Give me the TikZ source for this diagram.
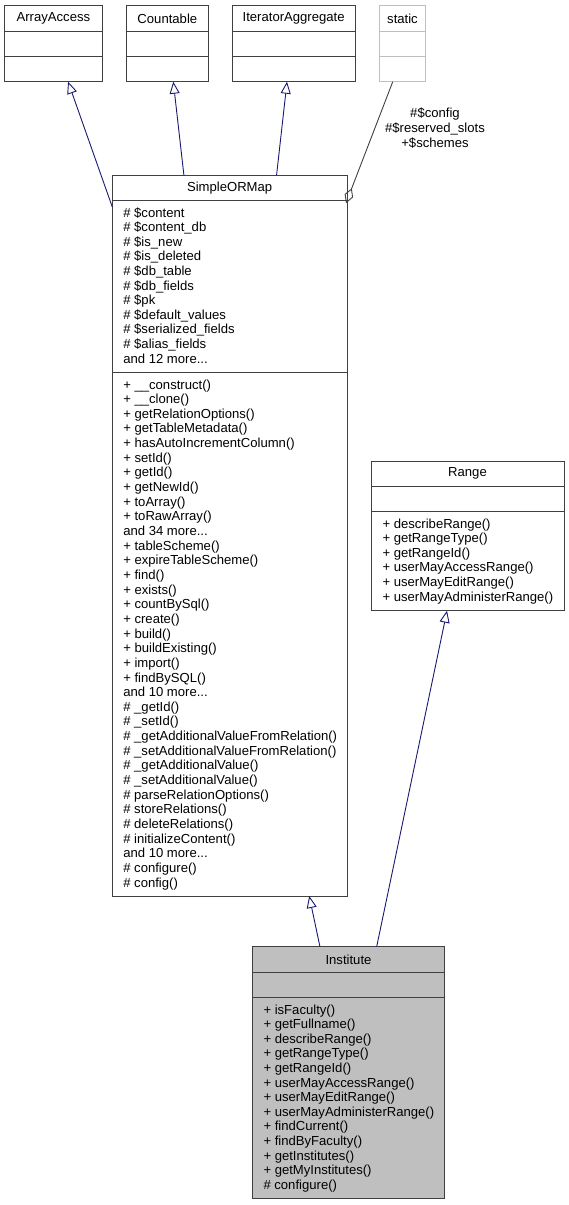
\documentclass[tikz,border=0pt]{standalone}
\usepackage{fontspec}
\setmainfont{Liberation Sans}
\usetikzlibrary{arrows.meta,calc}
\definecolor{edgeblue}{HTML}{191970}
\definecolor{bordergray}{HTML}{404040}
\definecolor{lightborder}{HTML}{BFBFBF}
\definecolor{instfill}{HTML}{BFBFBF}
\newcommand\mydots{...}
\tikzset{
  comp/.style={draw=bordergray, line width=1pt, inner sep=0pt, outer sep=0pt, anchor=north west,
    font=\fontsize{13.1}{14.6}\selectfont, text=black},
  faint/.style={comp, draw=lightborder},
  filled/.style={comp, fill=instfill},
  txt/.style={anchor=base west, inner sep=0pt, outer sep=0pt, font=\fontsize{13.1}{14.6}\selectfont, text=black},
  inh/.style={draw=edgeblue, line width=0.9pt, -{Triangle[open, length=12pt, width=10pt]}},
  agg/.style={draw=bordergray, line width=0.9pt, -{Diamond[open, length=16pt, width=9pt]}},
  lbl/.style={align=center, inner sep=0pt, font=\fontsize{13.1}{15}\selectfont, text=black}
}
\begin{document}
\begin{tikzpicture}[x=1pt, y=-1pt]
\useasboundingbox (0,0) rectangle (569,1205);

% ArrayAccess
\node[comp, minimum width=97.8pt, minimum height=25.8pt] (aa) at (4.5,5.5) {ArrayAccess};
\node[comp, minimum width=97.8pt, minimum height=25.4pt] (aa-a) at (4.5,31.3) {};
\node[comp, minimum width=97.8pt, minimum height=25pt] (aa-m) at (4.5,56.7) {};
% Countable
\node[comp, minimum width=81.3pt, minimum height=25.8pt] (cnt) at (126.7,5.5) {Countable};
\node[comp, minimum width=81.3pt, minimum height=25.4pt] (cnt-a) at (126.7,31.3) {};
\node[comp, minimum width=81.3pt, minimum height=25pt] (cnt-m) at (126.7,56.7) {};
% IteratorAggregate
\node[comp, minimum width=122.7pt, minimum height=25.8pt] (ia) at (232.3,5.5) {IteratorAggregate};
\node[comp, minimum width=122.7pt, minimum height=25.4pt] (ia-a) at (232.3,31.3) {};
\node[comp, minimum width=122.7pt, minimum height=25pt] (ia-m) at (232.3,56.7) {};
% static
\node[faint, minimum width=46.4pt, minimum height=25.8pt] (st) at (379.3,5.5) {static};
\node[faint, minimum width=46.4pt, minimum height=25.4pt] (st-a) at (379.3,31.3) {};
\node[faint, minimum width=46.4pt, minimum height=25pt] (st-m) at (379.3,56.7) {};

% SimpleORMap
\node[comp, minimum width=234.7pt, minimum height=25.7pt] (som) at (112.3,175) {SimpleORMap};
\node[comp, minimum width=234.7pt, minimum height=171.6pt] (som-a) at (112.3,200.7) {};
\node[comp, minimum width=234.7pt, minimum height=523.7pt] (som-m) at (112.3,372.3) {};
\foreach \s [count=\i from 0] in {\# \$content, \# \$content\_db, \# \$is\_new, \# \$is\_deleted, \# \$db\_table, \# \$db\_fields, \# \$pk, \# \$default\_values, \# \$serialized\_fields, \# \$alias\_fields, and 12 more\mydots}
  \node[txt] (som-a\i) at ($(som-a.north west)+(11,16.4+\i*14.6)$) {\s};
\foreach \s [count=\i from 0] in {+ \_\_construct(), + \_\_clone(), + getRelationOptions(), + getTableMetadata(), + hasAutoIncrementColumn(), + setId(), + getId(), + getNewId(), + toArray(), + toRawArray(), and 34 more\mydots, + tableScheme(), + expireTableScheme(), + find(), + exists(), + countBySql(), + create(), + build(), + buildExisting(), + import(), + findBySQL(), and 10 more\mydots, \# \_getId(), \# \_setId(), \# \_getAdditionalValueFromRelation(), \# \_setAdditionalValueFromRelation(), \# \_getAdditionalValue(), \# \_setAdditionalValue(), \# parseRelationOptions(), \# storeRelations(), \# deleteRelations(), \# initializeContent(), and 10 more\mydots, \# configure(), \# config()}
  \node[txt] (som-m\i) at ($(som-m.north west)+(11,16.7+\i*14.65)$) {\s};

% Range
\node[comp, minimum width=193pt, minimum height=25pt] (rg) at (371,461) {Range};
\node[comp, minimum width=193pt, minimum height=25pt] (rg-a) at (371,486) {};
\node[comp, minimum width=193pt, minimum height=99.7pt] (rg-m) at (371,511) {};
\foreach \s [count=\i from 0] in {+ describeRange(), + getRangeType(), + getRangeId(), + userMayAccessRange(), + userMayEditRange(), + userMayAdministerRange()}
  \node[txt] (rg-m\i) at ($(rg-m.north west)+(11.5,17+\i*14.6)$) {\s};

% Institute
\node[filled, minimum width=191.6pt, minimum height=25.3pt] (inst) at (252.7,946.7) {Institute};
\node[filled, minimum width=191.6pt, minimum height=25.3pt] (inst-a) at (252.7,972) {};
\node[filled, minimum width=191.6pt, minimum height=200.7pt] (inst-m) at (252.7,997.3) {};
\foreach \s [count=\i from 0] in {+ isFaculty(), + getFullname(), + describeRange(), + getRangeType(), + getRangeId(), + userMayAccessRange(), + userMayEditRange(), + userMayAdministerRange(), + findCurrent(), + findByFaculty(), + getInstitutes(), + getMyInstitutes(), \# configure()}
  \node[txt] (inst-m\i) at ($(inst-m.north west)+(10.8,16.7+\i*14.6)$) {\s};

% connectors
\draw[inh] ($(som-a.north west)+(0,6.3)$) -- ($(aa-m.south west)!0.65!(aa-m.south east)$);
\draw[inh] ($(som.north west)!0.305!(som.north east)$) -- ($(cnt-m.south west)!0.573!(cnt-m.south east)$);
\draw[inh] ($(som.north west)!0.70!(som.north east)$) -- ($(ia-m.south west)!0.446!(ia-m.south east)$);
\draw[agg] ($(st-m.south west)!0.29!(st-m.south east)$) -- ($(som-a.north east)+(-1,2.5)$);
\node[lbl] (stlabel) at (435,128) {\#\$config\\\#\$reserved\_slots\\+\$schemes};
\draw[inh] ($(inst.north west)!0.351!(inst.north east)$) -- ($(som-m.south west)!0.839!(som-m.south east)$);
\draw[inh] ($(inst.north west)!0.647!(inst.north east)$) -- ($(rg-m.south west)!0.394!(rg-m.south east)$);
\end{tikzpicture}
\end{document}
